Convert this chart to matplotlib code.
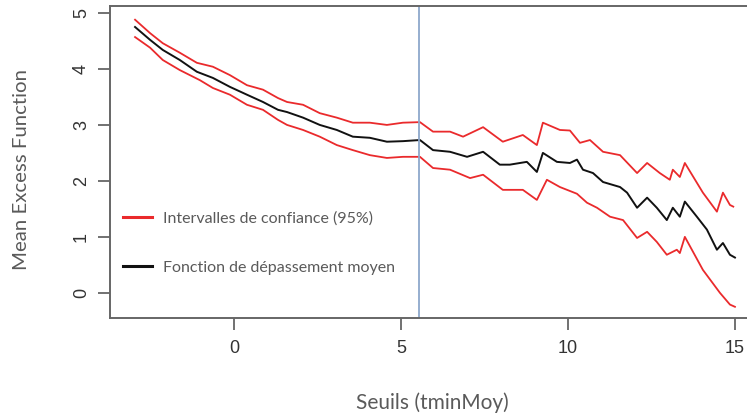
import matplotlib
matplotlib.use("Agg")
import matplotlib.pyplot as plt

# ---- data ----
x_mean = [-2.96, -2.51, -2.13, -1.62, -1.11, -0.63, -0.12, 0.39, 0.87, 1.32, 1.59, 2.07, 2.57,
          3.08, 3.56, 4.07, 4.58, 5.06, 5.57, 5.96, 6.47, 6.98, 7.46, 7.96, 8.26, 8.77, 9.07,
          9.25, 9.67, 10.06, 10.27, 10.45, 10.75, 11.05, 11.56, 11.77, 12.07, 12.37, 12.66,
          12.96, 13.14, 13.35, 13.50, 13.86, 14.16, 14.46, 14.64, 14.85, 15.0]
y_mean = [4.75, 4.52, 4.34, 4.16, 3.95, 3.84, 3.68, 3.54, 3.41, 3.27, 3.23, 3.13, 3.00,
          2.91, 2.79, 2.77, 2.70, 2.71, 2.73, 2.55, 2.52, 2.43, 2.52, 2.29, 2.29, 2.34, 2.16,
          2.50, 2.34, 2.32, 2.38, 2.20, 2.14, 1.98, 1.89, 1.79, 1.52, 1.70, 1.52,
          1.30, 1.52, 1.36, 1.63, 1.36, 1.13, 0.77, 0.89, 0.68, 0.63]

x_upper = [-2.96, -2.51, -2.13, -1.62, -1.11, -0.63, -0.12, 0.39, 0.87, 1.32, 1.59, 2.07, 2.57,
           3.08, 3.56, 4.07, 4.58, 5.06, 5.57, 5.96, 6.47, 6.86, 7.46, 8.05, 8.65, 9.07,
           9.25, 9.76, 10.06, 10.36, 10.66, 11.05, 11.56, 12.07, 12.37, 12.75, 13.05, 13.14,
           13.35, 13.50, 14.04, 14.46, 14.64, 14.85, 14.95]
y_upper = [4.88, 4.64, 4.46, 4.29, 4.11, 4.04, 3.89, 3.71, 3.63, 3.48, 3.41, 3.36, 3.21,
           3.13, 3.04, 3.04, 3.00, 3.04, 3.05, 2.88, 2.88, 2.79, 2.96, 2.70, 2.82, 2.64,
           3.04, 2.91, 2.90, 2.68, 2.73, 2.52, 2.46, 2.14, 2.32, 2.14, 2.02, 2.20,
           2.07, 2.32, 1.79, 1.45, 1.79, 1.57, 1.54]

x_lower = [-2.96, -2.51, -2.13, -1.62, -1.02, -0.63, -0.12, 0.39, 0.87, 1.32, 1.59, 2.07, 2.57,
           3.08, 3.56, 4.07, 4.58, 5.06, 5.57, 5.96, 6.47, 7.07, 7.46, 8.05, 8.65, 9.07,
           9.37, 9.76, 10.27, 10.57, 10.87, 11.26, 11.65, 12.07, 12.37, 12.66, 12.96, 13.26,
           13.35, 13.50, 14.04, 14.55, 14.85, 15.0]
y_lower = [4.57, 4.38, 4.16, 3.98, 3.80, 3.66, 3.54, 3.36, 3.27, 3.09, 3.00, 2.91, 2.79,
           2.64, 2.55, 2.46, 2.41, 2.43, 2.43, 2.23, 2.20, 2.05, 2.11, 1.84, 1.84, 1.66,
           2.02, 1.89, 1.77, 1.61, 1.52, 1.36, 1.30, 0.98, 1.09, 0.91, 0.68, 0.77,
           0.71, 1.00, 0.41, 0.00, -0.21, -0.25]

threshold = 5.55
x_ticks = [0, 5, 10, 15]
y_ticks = [0, 1, 2, 3, 4, 5]
label_ci = "Intervalles de confiance (95%)"
label_mean = "Fonction de dépassement moyen"
x_title = "Seuils (tminMoy)"
y_title = "Mean Excess Function"

RED = "#ea2a2c"
SPINE = "#666666"
TXT = "#5a5a5a"

fig = plt.figure(figsize=(7.47, 4.17), dpi=100)
W, H = 747, 417
ax = fig.add_axes([110 / W, (H - 318) / H, (759 - 110) / W, (318 - 6) / H])
ax.set_xlim(-3.71, 15.72)
ax.set_ylim(-0.45, 5.125)

ax.plot(x_upper, y_upper, color=RED, lw=1.3, label=label_ci)
ax.plot(x_lower, y_lower, color=RED, lw=1.3)
ax.plot(x_mean, y_mean, color="#111111", lw=1.4, label=label_mean)
ax.axvline(threshold, color="#8ea8cc", lw=1.3)

for s in ["left", "bottom", "top"]:
    ax.spines[s].set_color(SPINE)
    ax.spines[s].set_linewidth(1.4)
ax.spines["right"].set_visible(False)

ax.set_xticks(x_ticks)
ax.set_yticks(y_ticks)
ax.tick_params(axis="both", direction="out", length=8.5, width=1.3, color=SPINE,
               labelsize=13, labelcolor="#333333")
ax.tick_params(axis="x", pad=7)
ax.tick_params(axis="y", pad=6)
for lab in ax.get_yticklabels():
    lab.set_rotation(90)
    lab.set_va("center")
for lab in ax.get_xticklabels() + ax.get_yticklabels():
    lab.set_family(["Liberation Sans", "DejaVu Sans"])

fig.text(432 / W, 1 - 403 / H, x_title, ha="center", va="center",
         fontsize=15, color=TXT, family=["Lato", "DejaVu Sans"])
fig.text(22 / W, 1 - 170 / H, y_title, ha="center", va="center", rotation=90,
         fontsize=14.7, color=TXT, family=["Lato", "DejaVu Sans"])

leg = ax.legend(loc="upper left", bbox_to_anchor=(109 / W, 1 - 197 / H),
                bbox_transform=fig.transFigure, frameon=False,
                prop={"family": ["Lato", "DejaVu Sans"], "size": 11.5},
                handlelength=1.8, handletextpad=0.7, labelspacing=2.2)
for t in leg.get_texts():
    t.set_color(TXT)
for l in leg.get_lines():
    l.set_linewidth(2.2)

fig.savefig("out.png", dpi=100)
